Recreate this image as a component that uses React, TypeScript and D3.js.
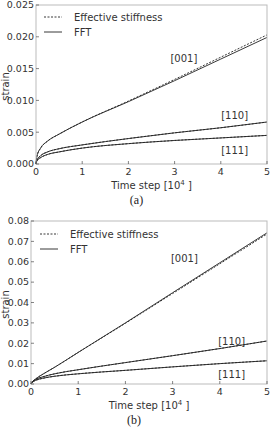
import React from "react";
import * as d3 from "d3";

const timeSteps = [0, 0.02, 0.1, 0.25, 0.5, 1, 2, 3, 4, 5];

// panel (a)
const a001FFT = [0, 0.0012, 0.0025, 0.0036, 0.0047, 0.0066, 0.0098, 0.0131, 0.0165, 0.0199];
const a001Eff = [0, 0.0012, 0.0025, 0.0036, 0.0047, 0.0066, 0.0099, 0.0133, 0.0168, 0.0203];
const a110 = [0, 0.0006, 0.0013, 0.0019, 0.0024, 0.003, 0.004, 0.0049, 0.0057, 0.0066];
const a111 = [0, 0.0005, 0.001, 0.0015, 0.0019, 0.0025, 0.0032, 0.0037, 0.0041, 0.0045];
const aYTicks = [0, 0.005, 0.01, 0.015, 0.02, 0.025];

// panel (b)
const b001FFT = [0, 0.0008, 0.0025, 0.0048, 0.0082, 0.0155, 0.03, 0.0448, 0.0595, 0.0742];
const b001Eff = [0, 0.0008, 0.0025, 0.0048, 0.0082, 0.0155, 0.0298, 0.0444, 0.059, 0.0736];
const b110 = [0, 0.0008, 0.0022, 0.0035, 0.005, 0.007, 0.0105, 0.0139, 0.0174, 0.0211];
const b111 = [0, 0.0007, 0.0018, 0.0028, 0.0038, 0.005, 0.0067, 0.0084, 0.01, 0.0114];
const bYTicks = [0, 0.01, 0.02, 0.03, 0.04, 0.05, 0.06, 0.07, 0.08];

const xTicks = [0, 1, 2, 3, 4, 5];
const legendLabels = ["Effective stiffness", "FFT"];
const dirLabels = ["[001]", "[110]", "[111]"];

const FONT = "DejaVu Sans, sans-serif";
const TXT = "#333";
const FRAME = "#bbb";
const LINE = "#222";

type PanelProps = {
  left: number;
  top: number;
  bottom: number;
  right: number;
  yMax: number;
  yTicks: number[];
  fmt: (v: number) => string;
  fft: number[][];
  eff: number[][];
  labelPos: { t: number; v: number }[];
  legendY: number;
  legendX: number;
  caption: string;
};

function Panel(p: PanelProps) {
  const x = d3.scaleLinear().domain([0, 5]).range([p.left, p.right]);
  const y = d3.scaleLinear().domain([0, p.yMax]).range([p.bottom, p.top]);
  const line = d3
    .line<number>()
    .x((_, i) => x(timeSteps[i]))
    .y((d) => y(d))
    .curve(d3.curveMonotoneX);
  const midX = (p.left + p.right) / 2;
  return (
    <g>
      {p.eff.map((s, i) => (
        <path key={"e" + i} d={line(s) || ""} fill="none" stroke={LINE} strokeWidth={0.9} strokeDasharray="2,1.5" />
      ))}
      {p.fft.map((s, i) => (
        <path key={"f" + i} d={line(s) || ""} fill="none" stroke={LINE} strokeWidth={0.9} />
      ))}
      <rect x={p.left} y={p.top} width={p.right - p.left} height={p.bottom - p.top} fill="none" stroke={FRAME} strokeWidth={1} />
      {p.yTicks.map((t) => (
        <g key={"y" + t}>
          <line x1={p.left} x2={p.left + 3} y1={y(t)} y2={y(t)} stroke={TXT} strokeWidth={0.6} />
          <text x={p.left - 2} y={y(t)} dy="0.35em" textAnchor="end" fontSize={9.5} fill={TXT} fontFamily={FONT}>
            {p.fmt(t)}
          </text>
        </g>
      ))}
      {xTicks.map((t) => (
        <g key={"x" + t}>
          <line x1={x(t)} x2={x(t)} y1={p.bottom} y2={p.bottom - 3} stroke={TXT} strokeWidth={0.6} />
          <text x={x(t)} y={p.bottom + 11} textAnchor="middle" fontSize={9.5} fill={TXT} fontFamily={FONT}>
            {t}
          </text>
        </g>
      ))}
      <text x={midX} y={p.bottom + 25} textAnchor="middle" fontSize={10} fill={TXT} fontFamily={FONT}>
        Time step [10<tspan dy="-4" fontSize={7}>4</tspan>
        <tspan dy="4"> ]</tspan>
      </text>
      <text
        transform={`translate(${8.5},${(p.top + p.bottom) / 2 + 2}) rotate(-90)`}
        textAnchor="middle"
        fontSize={10}
        fill={TXT}
        fontFamily={FONT}
      >
        strain
      </text>
      {dirLabels.map((l, i) => (
        <text key={l} x={x(p.labelPos[i].t)} y={y(p.labelPos[i].v)} dy="0.35em" textAnchor="middle" fontSize={10} fill={TXT} fontFamily={FONT}>
          {l}
        </text>
      ))}
      <line x1={p.legendX} x2={p.legendX + 18} y1={p.legendY} y2={p.legendY} stroke={LINE} strokeWidth={0.9} strokeDasharray="2,1.5" />
      <line x1={p.legendX} x2={p.legendX + 18} y1={p.legendY + 15} y2={p.legendY + 15} stroke={LINE} strokeWidth={0.9} />
      {legendLabels.map((l, i) => (
        <text key={l} x={p.legendX + 30} y={p.legendY + i * 15} dy="0.35em" fontSize={10} fill={TXT} fontFamily={FONT}>
          {l}
        </text>
      ))}
      <text x={midX - 15} y={p.bottom + 40} textAnchor="middle" fontSize={12} fill="#222" fontFamily="Liberation Serif, serif">
        {p.caption}
      </text>
    </g>
  );
}

export default function App() {
  return (
    <svg width={270} height={427} style={{ position: "absolute", left: 0, top: 0, background: "#fff" }}>
      <Panel
        left={36}
        right={267}
        top={5}
        bottom={164}
        yMax={0.025}
        yTicks={aYTicks}
        fmt={d3.format(".3f")}
        fft={[a001FFT, a110, a111]}
        eff={[a001Eff, a110, a111]}
        labelPos={[
          { t: 3.2, v: 0.0166 },
          { t: 4.3, v: 0.0076 },
          { t: 4.3, v: 0.0022 },
        ]}
        legendX={44}
        legendY={17}
        caption="(a)"
      />
      <Panel
        left={31}
        right={267}
        top={221}
        bottom={384}
        yMax={0.08}
        yTicks={bYTicks}
        fmt={d3.format(".2f")}
        fft={[b001FFT, b110, b111]}
        eff={[b001Eff, b110, b111]}
        labelPos={[
          { t: 3.25, v: 0.0615 },
          { t: 4.25, v: 0.0208 },
          { t: 4.25, v: 0.0045 },
        ]}
        legendX={40}
        legendY={234}
        caption="(b)"
      />
    </svg>
  );
}
